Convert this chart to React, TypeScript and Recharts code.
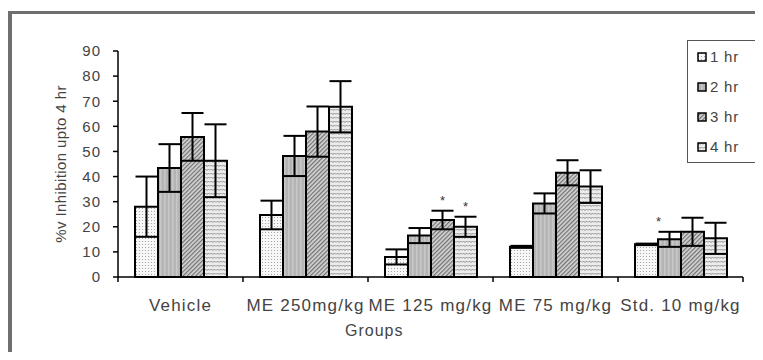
import React from "react";
import { Bar, BarChart, ErrorBar, LabelList, Legend, XAxis, YAxis } from "recharts";

const groups = ["Vehicle", "ME 250mg/kg", "ME 125 mg/kg", "ME 75 mg/kg", "Std. 10 mg/kg"];
const hr1 = [28, 24.7, 8, 12, 13];
const hr1Err = [12, 5.7, 3, 0.4, 0.3];
const hr2 = [43.4, 48.2, 16.5, 29.3, 15];
const hr2Err = [9.5, 8, 3, 4, 3];
const hr3 = [55.8, 57.9, 22.7, 41.5, 18];
const hr3Err = [9.5, 10, 3.7, 5, 5.6];
const hr4 = [46.3, 67.8, 20, 36, 15.4];
const hr4Err = [14.5, 10.2, 4, 6.5, 6.2];
const hr2Stars = ["", "", "", "", "*"];
const hr3Stars = ["", "", "*", "", ""];
const hr4Stars = ["", "", "*", "", ""];
const yTicks = [0, 10, 20, 30, 40, 50, 60, 70, 80, 90];

const data = groups.map((g, i) => ({
  group: g,
  h1: hr1[i],
  e1: hr1Err[i],
  h2: hr2[i],
  e2: hr2Err[i],
  h3: hr3[i],
  e3: hr3Err[i],
  h4: hr4[i],
  e4: hr4Err[i],
}));

const series = [
  { key: "h1", err: "e1", name: "1 hr", fill: "url(#p1)", stars: null as string[] | null },
  { key: "h2", err: "e2", name: "2 hr", fill: "url(#p2)", stars: hr2Stars },
  { key: "h3", err: "e3", name: "3 hr", fill: "url(#p3)", stars: hr3Stars },
  { key: "h4", err: "e4", name: "4 hr", fill: "url(#p4)", stars: hr4Stars },
];

const textColor = "#444";

function GroupTick(props: any) {
  const { x, y, payload, index, visibleTicksCount } = props;
  const half = payload?.offset ?? 62.5;
  const last = index === visibleTicksCount - 1;
  return (
    <g>
      <line x1={x - half} x2={x - half} y1={y} y2={y + 5} stroke="#000" strokeWidth={1.5} />
      {last && <line x1={x + half} x2={x + half} y1={y} y2={y + 5} stroke="#000" strokeWidth={1.5} />}
      <text x={x} y={y + 28} textAnchor="middle" dominantBaseline="central" fill={textColor} fontSize={17} letterSpacing={1.2}>
        {payload.value}
      </text>
    </g>
  );
}

function starLabel(stars: string[], errs: number[], vals: number[], shift: number) {
  return (props: any) => {
    const { x, y, width, height, index } = props;
    if (!stars[index]) return null;
    const perUnit = height / vals[index];
    const top = y - errs[index] * perUnit;
    return (
      <text x={x + width / 2 + shift} y={top - 6} textAnchor="middle" fontSize={13} fill="#333">
        *
      </text>
    );
  };
}

function LegendBox() {
  return (
    <div style={{ border: "1.5px solid #555", width: 69, height: 123, boxSizing: "border-box", padding: "1px 0 0 9px", background: "#fff" }}>
      {series.map((s) => (
        <div key={s.key} style={{ display: "flex", alignItems: "center", height: 30, color: textColor, fontSize: 15, letterSpacing: 0.8, lineHeight: "30px" }}>
          <svg width={11} height={10} style={{ marginRight: 2, flex: "none" }}>
            <rect x={1} y={1} width={8} height={8} fill={s.fill} stroke="#000" strokeWidth={1.5} />
          </svg>
          {s.name}
        </div>
      ))}
    </div>
  );
}

function GroupsLabel(props: any) {
  const { viewBox } = props;
  return (
    <text x={viewBox.x + viewBox.width * 0.41} y={viewBox.y + 53} textAnchor="middle" dominantBaseline="central" fill={textColor} fontSize={16} letterSpacing={1}>
      Groups
    </text>
  );
}

export default function App() {
  return (
    <div style={{ position: "relative", width: 763, height: 360, margin: -8, background: "#fff", fontFamily: "'Liberation Sans', Arial, sans-serif" }}>
      <div
        style={{
          position: "absolute",
          left: 8,
          top: 11,
          width: 760,
          height: 347,
          borderTop: "3px solid #6f6f6f",
          borderLeft: "4px solid #6f6f6f",
          borderBottom: "1px solid #e4e4e4",
          boxSizing: "border-box",
        }}
      />
      <BarChart
        width={763}
        height={360}
        data={data}
        margin={{ top: 51, right: 20, bottom: 23, left: 48 }}
        barSize={23}
        barGap={0}
        style={{ position: "absolute", left: 0, top: 0 }}
      >
        <defs>
          <pattern id="p1" width={3} height={3} patternUnits="userSpaceOnUse">
            <rect width={3} height={3} fill="#f7f7f7" />
            <circle cx={1.5} cy={1.5} r={0.55} fill="#999" />
          </pattern>
          <pattern id="p2" width={4} height={4} patternUnits="userSpaceOnUse">
            <rect width={4} height={4} fill="#b4b4b4" />
            <rect width={1.5} height={4} fill="#c8c8c8" />
          </pattern>
          <pattern id="p3" width={3} height={3} patternUnits="userSpaceOnUse" patternTransform="rotate(45)">
            <rect width={3} height={3} fill="#d4d4d4" />
            <rect width={1.2} height={3} fill="#707070" />
          </pattern>
          <pattern id="p4" width={6} height={4} patternUnits="userSpaceOnUse">
            <rect width={6} height={4} fill="#ececec" />
            <path d="M0 2.5 L1.5 1 L3 2.5 L4.5 1 L6 2.5" stroke="#808080" strokeWidth={0.9} fill="none" />
          </pattern>
        </defs>
        <XAxis
          dataKey="group"
          interval={0}
          height={60}
          tickSize={0}
          tickMargin={0}
          tick={<GroupTick />}
          axisLine={{ stroke: "#000", strokeWidth: 1.5 }}
          tickLine={false}
          label={{ content: <GroupsLabel /> }}
        />
        <YAxis
          width={70}
          domain={[0, 90]}
          ticks={yTicks}
          interval={0}
          tickSize={5}
          tickMargin={12}
          axisLine={{ stroke: "#000", strokeWidth: 1.5 }}
          tickLine={{ stroke: "#000", strokeWidth: 1.5 }}
          tick={{ fill: textColor, fontSize: 15, letterSpacing: 1 }}
          label={{
            value: "%v Inhibition upto 4 hr",
            angle: -90,
            position: "insideLeft",
            offset: 13,
            style: { textAnchor: "middle", fill: textColor, fontSize: 15, letterSpacing: 0.4 },
          }}
        />
        <Legend
          layout="vertical"
          align="center"
          verticalAlign="middle"
          wrapperStyle={{ left: 687, top: 40, width: 69, height: 123 }}
          content={() => <LegendBox />}
        />
        {series.map((s, si) => {
          const vals = [hr1, hr2, hr3, hr4][si];
          const errs = [hr1Err, hr2Err, hr3Err, hr4Err][si];
          return (
            <Bar key={s.key} dataKey={s.key} name={s.name} fill={s.fill} stroke="#000" strokeWidth={2} isAnimationActive={false}>
              <ErrorBar dataKey={s.err} width={11} stroke="#000" strokeWidth={2} direction="y" />
              {s.stars && (
                <LabelList dataKey={s.key} content={starLabel(s.stars, errs, vals, si === 1 ? -11 : 0)} />
              )}
            </Bar>
          );
        })}
      </BarChart>
    </div>
  );
}
